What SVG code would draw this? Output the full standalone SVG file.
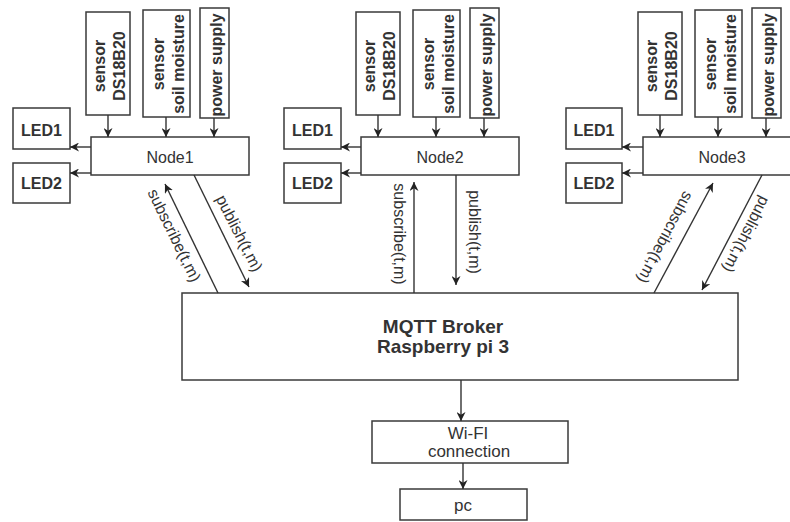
<svg xmlns="http://www.w3.org/2000/svg" width="790" height="522" viewBox="0 0 790 522">
<defs>
<style>
.box{fill:#fff;stroke:#3a3a3a;stroke-width:1.5}
.t{font-family:"Liberation Sans",Arial,sans-serif;fill:#333;font-size:16px}
.b{font-weight:bold}
.m{text-anchor:middle}
.c{stroke:#333;stroke-width:1.4;fill:none;marker-end:url(#ah)}
</style>
<marker id="ah" viewBox="0 0 10 10" refX="10" refY="5" markerWidth="9" markerHeight="9" markerUnits="userSpaceOnUse" orient="auto">
<path d="M0,0 L10,5 L0,10 L3,5 z" fill="#222"/>
</marker>
</defs>
<rect width="790" height="522" fill="#fff"/>

<!-- cluster 1 -->
<g id="sensor-ds-1"><rect class="box" x="86" y="12" width="44" height="103"/>
<text class="t b m" transform="translate(105,66) rotate(-90)">sensor</text>
<text class="t b m" transform="translate(125,66) rotate(-90)">DS18B20</text></g>
<g id="sensor-soil-1"><rect class="box" x="143" y="10" width="47" height="107"/>
<text class="t b m" transform="translate(164,64) rotate(-90)">sensor</text>
<text class="t b m" transform="translate(184,64) rotate(-90)">soil moisture</text></g>
<g id="power-1"><rect class="box" x="200" y="8" width="29" height="110"/>
<text class="t b m" transform="translate(222,65) rotate(-90)">power supply</text></g>
<g id="node1"><rect class="box" x="91" y="137" width="158" height="38"/>
<text class="t m" x="170" y="163">Node1</text></g>
<g id="led1-1"><rect class="box" x="13" y="108" width="57" height="41"/>
<text class="t b m" x="41.5" y="136">LED1</text></g>
<g id="led2-1"><rect class="box" x="13" y="163" width="57" height="40"/>
<text class="t b m" x="41.5" y="189">LED2</text></g>

<!-- cluster 2 -->
<g id="sensor-ds-2"><rect class="box" x="356" y="12" width="44" height="103"/>
<text class="t b m" transform="translate(375,66) rotate(-90)">sensor</text>
<text class="t b m" transform="translate(395,66) rotate(-90)">DS18B20</text></g>
<g id="sensor-soil-2"><rect class="box" x="413" y="10" width="47" height="107"/>
<text class="t b m" transform="translate(434,64) rotate(-90)">sensor</text>
<text class="t b m" transform="translate(454,64) rotate(-90)">soil moisture</text></g>
<g id="power-2"><rect class="box" x="470" y="8" width="29" height="110"/>
<text class="t b m" transform="translate(492,65) rotate(-90)">power supply</text></g>
<g id="node2"><rect class="box" x="361" y="137" width="158" height="38"/>
<text class="t m" x="440" y="163">Node2</text></g>
<g id="led1-2"><rect class="box" x="284" y="108" width="57" height="41"/>
<text class="t b m" x="312.5" y="136">LED1</text></g>
<g id="led2-2"><rect class="box" x="284" y="163" width="57" height="40"/>
<text class="t b m" x="312.5" y="189">LED2</text></g>

<!-- cluster 3 -->
<g id="sensor-ds-3"><rect class="box" x="638" y="12" width="44" height="103"/>
<text class="t b m" transform="translate(657,66) rotate(-90)">sensor</text>
<text class="t b m" transform="translate(677,66) rotate(-90)">DS18B20</text></g>
<g id="sensor-soil-3"><rect class="box" x="695" y="10" width="47" height="107"/>
<text class="t b m" transform="translate(716,64) rotate(-90)">sensor</text>
<text class="t b m" transform="translate(736,64) rotate(-90)">soil moisture</text></g>
<g id="power-3"><rect class="box" x="752" y="8" width="29" height="110"/>
<text class="t b m" transform="translate(774,65) rotate(-90)">power supply</text></g>
<g id="node3"><rect class="box" x="643" y="137" width="158" height="38"/>
<text class="t m" x="722" y="163">Node3</text></g>
<g id="led1-3"><rect class="box" x="566" y="108" width="56" height="41"/>
<text class="t b m" x="594" y="136">LED1</text></g>
<g id="led2-3"><rect class="box" x="566" y="163" width="56" height="40"/>
<text class="t b m" x="594" y="189">LED2</text></g>

<!-- broker and downstream -->
<g id="broker"><rect class="box" x="182" y="293" width="556" height="87"/>
<text class="t b m" style="font-size:19px" x="443" y="333">MQTT Broker</text>
<text class="t b m" style="font-size:19px" x="443" y="353">Raspberry pi 3</text></g>
<g id="wifi"><rect class="box" x="372" y="421" width="196" height="42"/>
<text class="t m" style="font-size:17px" x="468" y="439">Wi-FI</text>
<text class="t m" style="font-size:17px" x="469" y="457">connection</text></g>
<g id="pc"><rect class="box" x="400" y="489" width="127" height="31"/>
<text class="t m" style="font-size:17px" x="463" y="511">pc</text></g>

<g id="connectors">
<line class="c" x1="108" y1="115" x2="108" y2="137"/>
<line class="c" x1="166" y1="117" x2="166" y2="137"/>
<line class="c" x1="214" y1="118" x2="214" y2="137"/>
<line class="c" x1="91" y1="147" x2="70" y2="147"/>
<line class="c" x1="91" y1="173" x2="70" y2="173"/>
<line class="c" x1="378" y1="115" x2="378" y2="137"/>
<line class="c" x1="436" y1="117" x2="436" y2="137"/>
<line class="c" x1="484" y1="118" x2="484" y2="137"/>
<line class="c" x1="361" y1="147" x2="341" y2="147"/>
<line class="c" x1="361" y1="173" x2="341" y2="173"/>
<line class="c" x1="660" y1="115" x2="660" y2="137"/>
<line class="c" x1="718" y1="117" x2="718" y2="137"/>
<line class="c" x1="766" y1="118" x2="766" y2="137"/>
<line class="c" x1="643" y1="147" x2="622" y2="147"/>
<line class="c" x1="643" y1="173" x2="622" y2="173"/>
<line class="c" x1="218" y1="293" x2="165" y2="184"/>
<line class="c" x1="194" y1="175" x2="249" y2="287"/>
<line class="c" x1="414" y1="293" x2="414" y2="182"/>
<line class="c" x1="456" y1="175" x2="456" y2="285"/>
<line class="c" x1="654" y1="293" x2="713" y2="183"/>
<line class="c" x1="762" y1="175" x2="702" y2="290"/>
<line class="c" x1="461" y1="380" x2="461" y2="421"/>
<line class="c" x1="463" y1="463" x2="463" y2="489"/>
<text class="t m" transform="translate(169.4,237.8) rotate(64)">subscribe(t,m)</text>
<text class="t m" transform="translate(234.4,235.8) rotate(63)">publish(t,m)</text>
<text class="t m" transform="translate(394,234) rotate(90)">subscribe(t,m)</text>
<text class="t m" transform="translate(469,232) rotate(90)">publish(t,m)</text>
<text class="t m" transform="translate(660.5,235) rotate(118)">subscribe(t,m)</text>
<text class="t m" transform="translate(741.5,232) rotate(117.5)">publish(t,m)</text>
</g>
</svg>
